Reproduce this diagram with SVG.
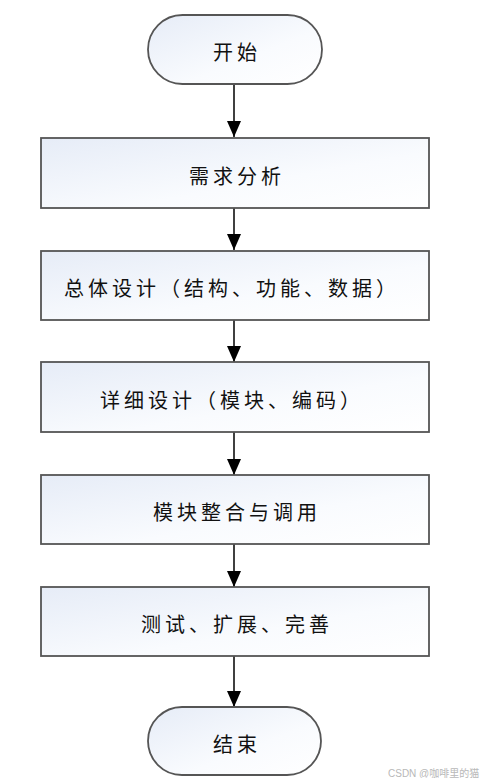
<svg xmlns="http://www.w3.org/2000/svg" width="480" height="778" viewBox="0 0 480 778">
<defs>
<linearGradient id="g" x1="0" y1="0" x2="1" y2="1">
<stop offset="0" stop-color="#e6ecf7"/>
<stop offset="0.6" stop-color="#f9fbfe"/>
<stop offset="1" stop-color="#ffffff"/>
</linearGradient>
<marker id="ah" markerWidth="16" markerHeight="14" refX="16" refY="7" orient="auto" markerUnits="userSpaceOnUse" viewBox="0 0 16 14">
<path d="M0,0 L16,7 L0,14 Z" fill="#000"/>
</marker>
<style>
.box{fill:url(#g);stroke:#555;stroke-width:1.8}
.t{font-family:"Noto Sans CJK SC","Liberation Sans",sans-serif;font-size:20px;fill:#111;text-anchor:middle;dominant-baseline:central;letter-spacing:4px}
.c{stroke:#000;stroke-width:1.5;fill:none}
.wm{font-family:"Liberation Sans","Noto Sans CJK SC",sans-serif;font-size:10px;fill:#b8b8b8}
</style>
</defs>
<rect width="480" height="778" fill="#fff"/>
<g id="connectors">
<line class="c" x1="234" y1="84" x2="234" y2="137" marker-end="url(#ah)"/>
<line class="c" x1="234" y1="208" x2="234" y2="250" marker-end="url(#ah)"/>
<line class="c" x1="234" y1="320" x2="234" y2="362" marker-end="url(#ah)"/>
<line class="c" x1="234" y1="432" x2="234" y2="475" marker-end="url(#ah)"/>
<line class="c" x1="234" y1="544" x2="234" y2="587" marker-end="url(#ah)"/>
<line class="c" x1="234" y1="656" x2="234" y2="707" marker-end="url(#ah)"/>
</g>
<g id="start">
<rect class="box" x="148" y="15" width="174" height="69" rx="34.5"/>
<text class="t" x="237" y="51">开始</text>
</g>
<g id="n1">
<rect class="box" x="41" y="138" width="388" height="70"/>
<text class="t" x="237" y="175">需求分析</text>
</g>
<g id="n2">
<rect class="box" x="41" y="251" width="388" height="69"/>
<text class="t" x="232" y="287">总体设计（结构、功能、数据）</text>
</g>
<g id="n3">
<rect class="box" x="41" y="362" width="388" height="70"/>
<text class="t" x="232" y="399">详细设计（模块、编码）</text>
</g>
<g id="n4">
<rect class="box" x="41" y="475" width="388" height="69"/>
<text class="t" x="237" y="511">模块整合与调用</text>
</g>
<g id="n5">
<rect class="box" x="41" y="587" width="388" height="69"/>
<text class="t" x="237" y="623">测试、扩展、完善</text>
</g>
<g id="end">
<rect class="box" x="148" y="707" width="173" height="68" rx="34"/>
<text class="t" x="237" y="743">结束</text>
</g>
<text class="wm" x="388" y="777">CSDN @咖啡里的猫</text>
</svg>
